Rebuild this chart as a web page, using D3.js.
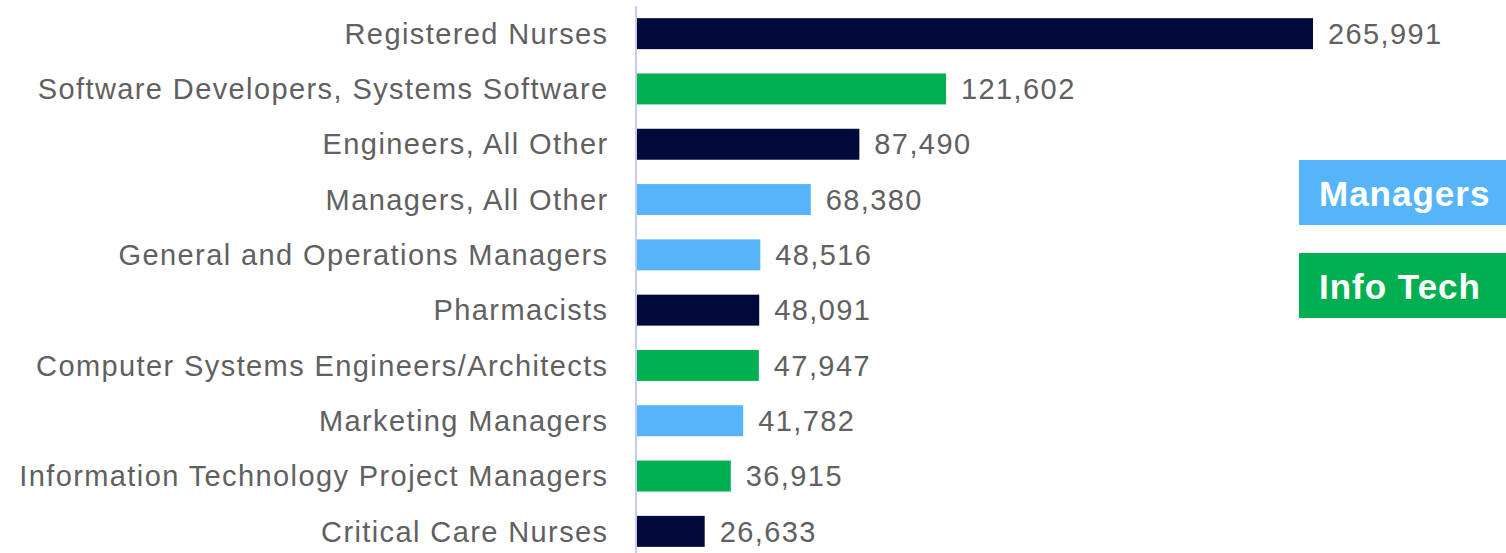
<!DOCTYPE html>
<html>
<head>
<meta charset="utf-8">
<script src="https://cdn.jsdelivr.net/npm/d3@7"></script>
<style>
  body { margin: 0; background: #fff; }
  svg { display: block; font-family: "Liberation Sans", Arial, sans-serif; }
</style>
</head>
<body>
<svg width="1506" height="553"></svg>
<script>
// occupations, top to bottom
var occupations = [
  "Registered Nurses",
  "Software Developers, Systems Software",
  "Engineers, All Other",
  "Managers, All Other",
  "General and Operations Managers",
  "Pharmacists",
  "Computer Systems Engineers/Architects",
  "Marketing Managers",
  "Information Technology Project Managers",
  "Critical Care Nurses"
];
var counts = [265991, 121602, 87490, 68380, 48516, 48091, 47947, 41782, 36915, 26633];
var groups = ["Other", "Info Tech", "Other", "Managers", "Managers", "Other", "Info Tech", "Managers", "Info Tech", "Other"];
var legendItems = ["Managers", "Info Tech"];

var colorOf = {"Other": "#000a3a", "Managers": "#56b4f8", "Info Tech": "#00b050"};

var svg = d3.select("svg");
var x0 = 637;

var x = d3.scaleLinear()
    .domain([0, 265991])
    .range([x0, 1313]);

var y = d3.scaleBand()
    .domain(occupations)
    .range([6, 559])
    .paddingInner(0.44)
    .paddingOuter(0.22);

var rows = svg.append("g").selectAll("g")
    .data(occupations)
    .enter().append("g");

rows.append("rect")
    .attr("x", x(0))
    .attr("y", function(d) { return y(d); })
    .attr("width", function(d, i) { return x(counts[i]) - x(0); })
    .attr("height", y.bandwidth())
    .attr("fill", function(d, i) { return colorOf[groups[i]]; });

rows.append("text")
    .attr("x", 608.5)
    .attr("y", function(d) { return y(d) + y.bandwidth() / 2; })
    .attr("dy", "0.35em")
    .attr("text-anchor", "end")
    .attr("font-size", 29)
    .attr("letter-spacing", "1.4px")
    .attr("fill", "#606060")
    .text(function(d) { return d; });

var fmt = d3.format(",");
rows.append("text")
    .attr("x", function(d, i) { return x(counts[i]) + 15; })
    .attr("y", function(d) { return y(d) + y.bandwidth() / 2; })
    .attr("dy", "0.35em")
    .attr("font-size", 29)
    .attr("letter-spacing", "1.4px")
    .attr("fill", "#606060")
    .text(function(d, i) { return fmt(counts[i]); });

// axis line
svg.append("line")
    .attr("x1", 636).attr("x2", 636)
    .attr("y1", 6).attr("y2", 553)
    .attr("stroke", "#c5cbf5")
    .attr("stroke-width", 2);

// legend boxes
var legend = svg.append("g").selectAll("g")
    .data(legendItems)
    .enter().append("g")
    .attr("transform", function(d, i) { return "translate(1299," + (160 + i * 93) + ")"; });

legend.append("rect")
    .attr("width", 207)
    .attr("height", 65)
    .attr("fill", function(d) { return colorOf[d]; });

legend.append("text")
    .attr("x", 20)
    .attr("y", 33)
    .attr("dy", "0.36em")
    .attr("font-size", 35)
    .attr("font-weight", "bold")
    .attr("letter-spacing", "1px")
    .attr("fill", "#fff")
    .text(function(d) { return d; });
</script>
</body>
</html>
